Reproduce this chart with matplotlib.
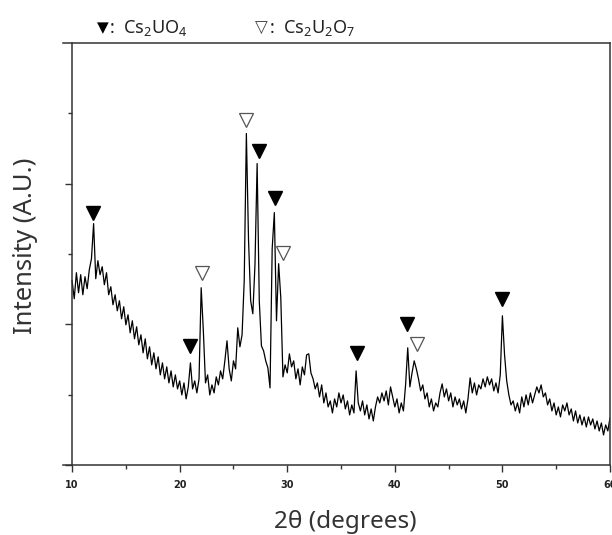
import numpy as np
import matplotlib
matplotlib.use("Agg")
import matplotlib.pyplot as plt
from matplotlib.ticker import MultipleLocator

plt.rcParams['font.family'] = ['Noto Sans', 'DejaVu Sans']
plt.rcParams['mathtext.fontset'] = 'custom'
plt.rcParams['mathtext.rm'] = 'Noto Sans'
plt.rcParams['mathtext.it'] = 'Noto Sans:italic'

# scan: 10-60 deg, 0.2 deg step
two_theta = np.round(np.arange(10.0, 60.001, 0.2), 1)
intensity = [
    184, 166, 192, 172, 190,   # 10
    170, 188, 176, 195, 206,   # 11
    241, 186, 204, 190, 198,   # 12
    180, 192, 170, 178, 160,   # 13
    170, 154, 164, 146, 158,   # 14
    140, 150, 132, 144, 126,   # 15
    138, 120, 130, 112, 126,   # 16
    106, 118, 100, 112, 96,    # 17
    108, 90, 102, 86, 98,      # 18
    82, 94, 78, 90, 76,        # 19
    84, 70, 82, 66, 78,        # 20
    102, 76, 84, 72, 86,       # 21
    177, 134, 82, 90, 70,      # 22
    80, 72, 88, 80, 94,        # 23
    86, 104, 124, 96, 84,      # 24
    104, 96, 137, 118, 130,    # 25
    184, 331, 225, 164, 151,   # 26
    200, 301, 164, 119, 114,   # 27
    104, 97, 77, 216, 252,     # 28
    144, 201, 167, 88, 100,    # 29
    92, 111, 98, 104, 86,      # 30
    96, 80, 98, 90, 110,       # 31
    111, 92, 86, 76, 82,       # 32
    68, 80, 62, 72, 58,        # 33
    64, 52, 66, 58, 72,        # 34
    62, 70, 56, 64, 50,        # 35
    60, 52, 94, 62, 54,        # 36
    64, 50, 60, 46, 56,        # 37
    44, 58, 68, 62, 72,        # 38
    64, 74, 60, 78, 68,        # 39
    58, 66, 52, 62, 54,        # 40
    80, 117, 78, 92, 104,      # 41
    96, 86, 74, 80, 66,        # 42
    72, 58, 66, 54, 62,        # 43
    58, 72, 81, 68, 76,        # 44
    64, 72, 58, 68, 60,        # 45
    66, 56, 64, 52, 66,        # 46
    87, 72, 82, 70, 80,        # 47
    76, 86, 78, 88, 80,        # 48
    86, 74, 82, 72, 90,        # 49
    149, 110, 84, 70, 60,      # 50
    64, 54, 62, 52, 68,        # 51
    58, 70, 60, 72, 62,        # 52
    70, 78, 72, 80, 68,        # 53
    72, 60, 66, 54, 62,        # 54
    50, 58, 48, 60, 54,        # 55
    62, 50, 56, 44, 54,        # 56
    42, 50, 40, 48, 38,        # 57
    48, 40, 46, 36, 44,        # 58
    34, 42, 30, 40, 34,        # 59
    47,                        # 60
]

# phase markers
cs2uo4_x = [11.95, 20.97, 27.38, 28.87, 36.5, 41.13, 49.96]
cs2uo4_y = [252, 119, 314, 267, 112, 141, 166]
cs2u2o7_x = [22.08, 26.17, 29.6, 42.06]
cs2u2o7_y = [192, 344, 212, 121]

fig = plt.figure(figsize=(6.12, 5.35), dpi=100)
ax = fig.add_axes([0.1025, 0.1308, 0.8942, 0.7882])

ax.plot(two_theta, intensity, color='black', lw=0.9)
ax.plot(cs2uo4_x, cs2uo4_y, 'v', ms=10, color='black', mec='black')
ax.plot(cs2u2o7_x, cs2u2o7_y, 'v', ms=10, mfc='white', mec='#555555', mew=0.9)

ax.set_xlim(9.13, 60)
ax.set_ylim(0, 421)
ax.spines['left'].set_position(('data', 10))
for s in ax.spines.values():
    s.set_color('#333333')
    s.set_linewidth(1.1)

ax.set_xticks([10, 20, 30, 40, 50, 60])
ax.xaxis.set_minor_locator(MultipleLocator(5))
ax.yaxis.set_major_locator(MultipleLocator(140.5))
ax.yaxis.set_minor_locator(MultipleLocator(70.25))
ax.set_yticklabels([])
ax.tick_params(which='major', direction='out', length=5, width=1.0, color='#333333')
ax.tick_params(which='minor', direction='out', length=3, width=1.0, color='#333333')
ax.tick_params(axis='x', labelsize=7, pad=6, labelcolor='#222222')
ax.tick_params(top=False, right=False)
for lbl in ax.get_xticklabels():
    lbl.set_fontweight('bold')
    lbl.set_family('DejaVu Sans')

ax.set_xlabel('2θ (degrees)', fontsize=17.5, color='#333333')
ax.xaxis.set_label_coords(0.516, -0.135)
ax.xaxis.label.set_va('center')
ax.set_ylabel('Intensity (A.U.)', fontsize=18.5, color='#333333')
ax.yaxis.set_label_coords(-0.068, 0.52)
ax.yaxis.label.set_va('center')

# phase legend above the frame
fig.text(0.158, 0.948, '▼', fontsize=11, color='black', va='center', family='DejaVu Sans')
fig.text(0.178, 0.948, ':  Cs$_2$UO$_4$', fontsize=13, color='#222222', va='center')
fig.text(0.416, 0.948, '▽', fontsize=12, color='#444444', va='center', family='DejaVu Sans')
fig.text(0.440, 0.948, ':  Cs$_2$U$_2$O$_7$', fontsize=13, color='#222222', va='center')

fig.savefig('out.png', dpi=100)
